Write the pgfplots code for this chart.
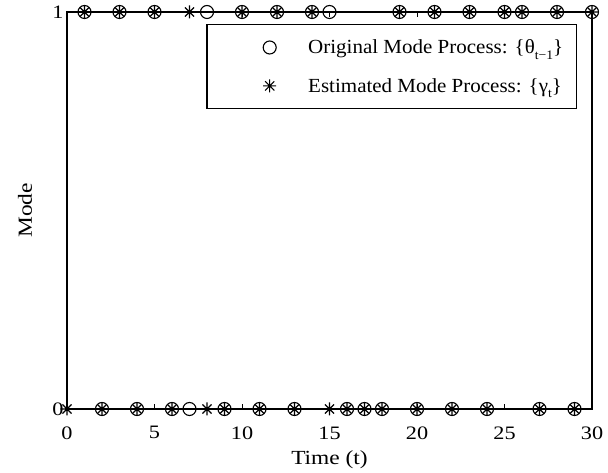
\documentclass[border=0pt]{standalone}
\usepackage{fontspec}
\setmainfont[FakeStretch=1.17]{Liberation Serif}
\newfontfamily\legfont[FakeStretch=1.05]{Liberation Serif}
\usepackage{pgfplots}
\pgfplotsset{compat=1.18}
\pgfdeclareplotmark{star8}{%
  \pgfpathmoveto{\pgfqpoint{-\pgfplotmarksize}{0pt}}\pgfpathlineto{\pgfqpoint{\pgfplotmarksize}{0pt}}%
  \pgfpathmoveto{\pgfqpoint{0pt}{-\pgfplotmarksize}}\pgfpathlineto{\pgfqpoint{0pt}{\pgfplotmarksize}}%
  \pgfpathmoveto{\pgfqpoint{-0.7071\pgfplotmarksize}{-0.7071\pgfplotmarksize}}\pgfpathlineto{\pgfqpoint{0.7071\pgfplotmarksize}{0.7071\pgfplotmarksize}}%
  \pgfpathmoveto{\pgfqpoint{-0.7071\pgfplotmarksize}{0.7071\pgfplotmarksize}}\pgfpathlineto{\pgfqpoint{0.7071\pgfplotmarksize}{-0.7071\pgfplotmarksize}}%
  \pgfusepathqstroke}
\begin{document}
\begin{tikzpicture}
\begin{axis}[
  scale only axis, width=525pt, height=397pt,
  xmin=0, xmax=30, ymin=0, ymax=1,
  xtick={0,5,...,30}, ytick={0,1},
  tick align=inside, major tick length=5pt,
  axis line style={line width=1.6pt},
  tick style={line width=0.8pt, black},
  clip=false,
  /pgf/number format/assume math mode=true,
  tick label style={font=\fontsize{19}{22}\selectfont},
  xticklabel style={yshift=-14pt},
  label style={font=\fontsize{20}{23}\selectfont},
  xlabel={Time (t)}, ylabel={Mode},
  xlabel style={at={(axis description cs:0.5,-0.128)}, anchor=center},
  ylabel style={at={(axis description cs:-0.08,0.5)}, anchor=center},
  legend style={at={(1,1)}, anchor=north east, xshift=-15pt, yshift=-12pt,
    font=\legfont\fontsize{20}{23}\selectfont, line width=1.5pt, inner xsep=11pt, inner ysep=13pt,
    row sep=19pt, cells={anchor=west}},
  legend image code/.code={\draw[#1] plot coordinates {(0pt,0pt)}; \path (-51pt,0) (36pt,0);},
]
\addplot[only marks, mark=o, mark size=6.5pt, line width=1.1pt, black] coordinates {
(1,1)(2,0)(3,1)(4,0)(5,1)(6,0)(7,0)(8,1)(9,0)(10,1)
(11,0)(12,1)(13,0)(14,1)(15,1)(16,0)(17,0)(18,0)(19,1)(20,0)
(21,1)(22,0)(23,1)(24,0)(25,1)(26,1)(27,0)(28,1)(29,0)(30,1)};
\addlegendentry{Original Mode Process: \{θ\raisebox{-0.6ex}{\fontsize{13}{15}\selectfont t−1}\}}
\addplot[only marks, mark=star8, mark size=6.5pt, line width=1.1pt, black] coordinates {
(0,0)(1,1)(2,0)(3,1)(4,0)(5,1)(6,0)(7,1)(8,0)(9,0)(10,1)
(11,0)(12,1)(13,0)(14,1)(15,0)(16,0)(17,0)(18,0)(19,1)(20,0)
(21,1)(22,0)(23,1)(24,0)(25,1)(26,1)(27,0)(28,1)(29,0)(30,1)};
\addlegendentry{Estimated Mode Process: \{γ\raisebox{-0.6ex}{\fontsize{13}{15}\selectfont t}\}}
\end{axis}
\pgfresetboundingbox
\useasboundingbox ([xshift=-67pt,yshift=-64pt]current axis.south west) rectangle ([xshift=16pt,yshift=12pt]current axis.north east);
\end{tikzpicture}
\end{document}
